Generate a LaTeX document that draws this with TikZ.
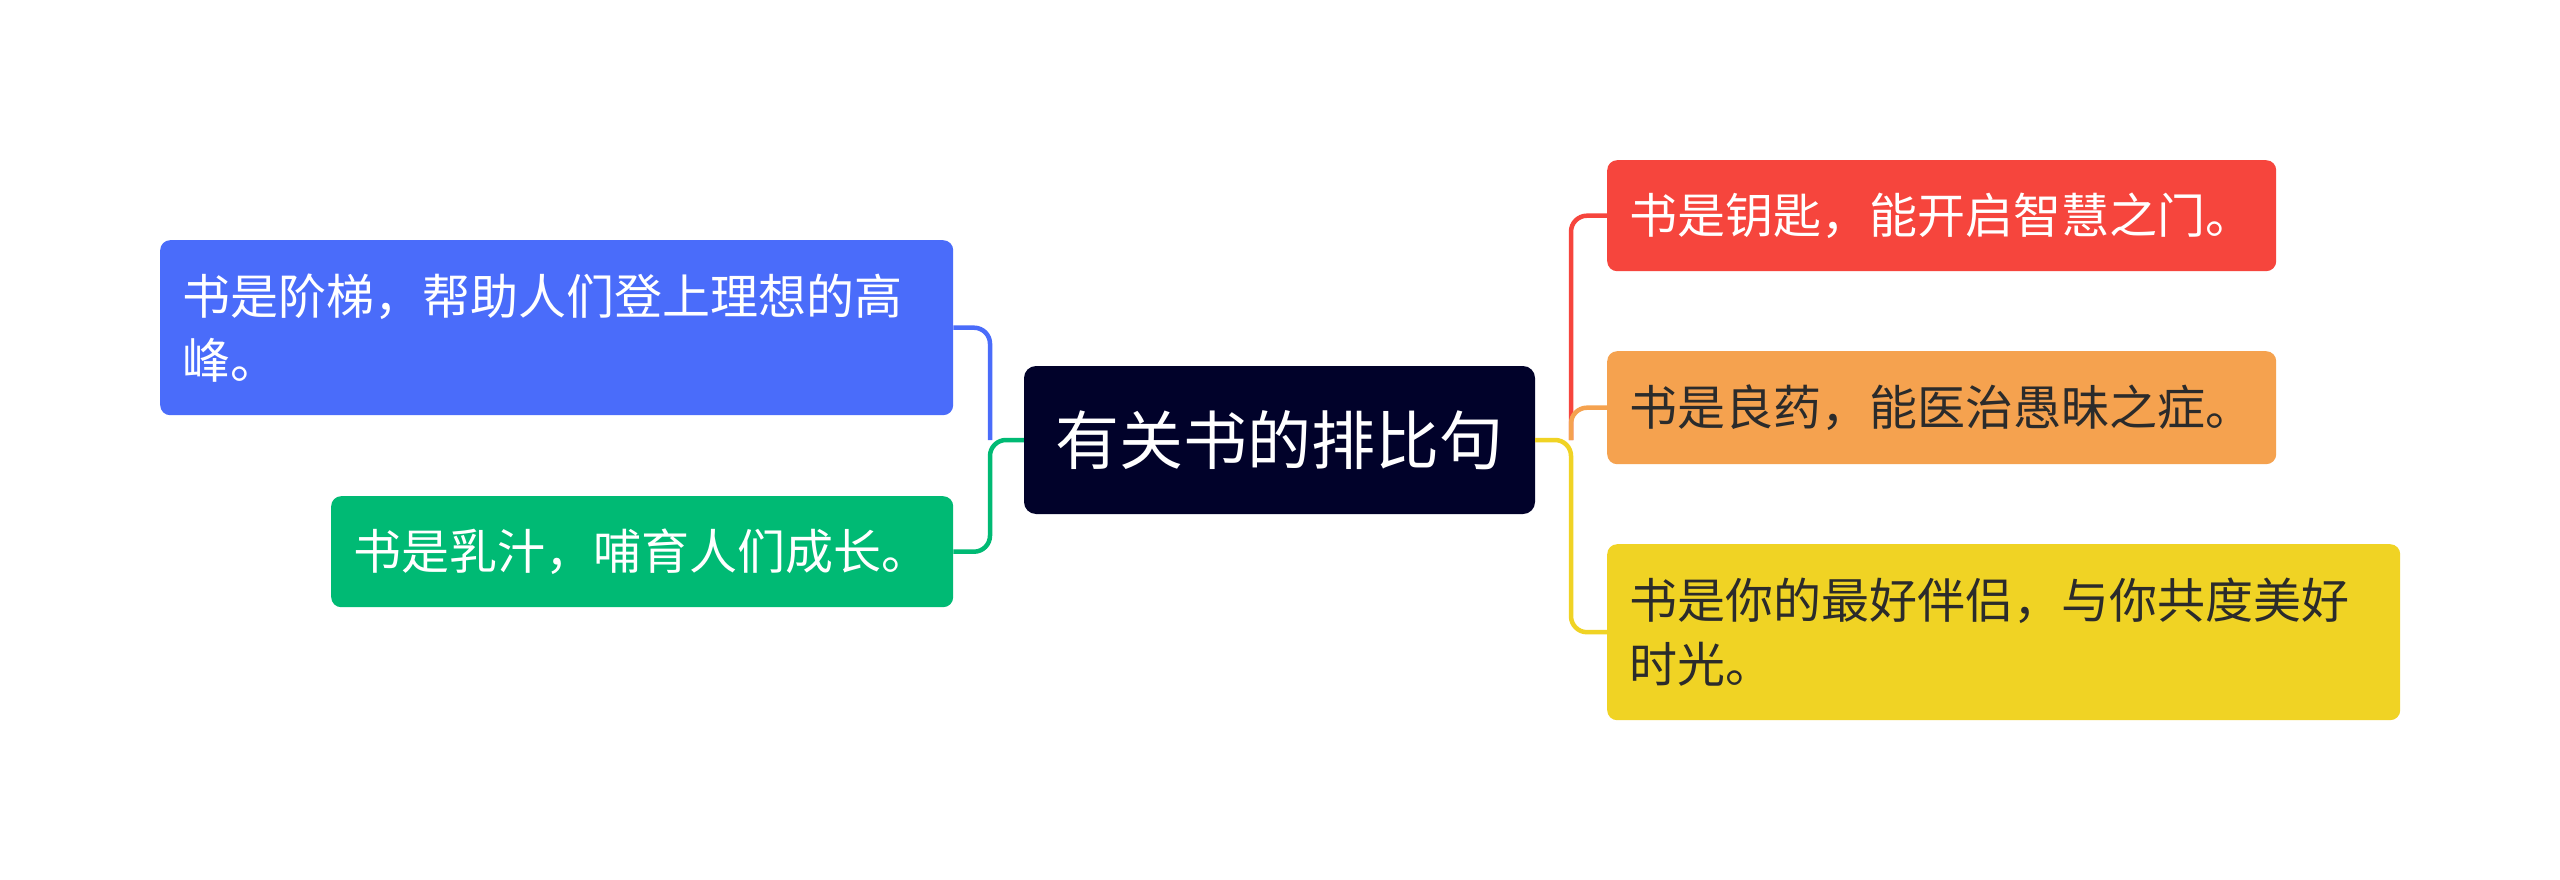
\documentclass[tikz,border=0pt]{standalone}
\usepackage{fontspec}
\setmainfont{Noto Sans CJK SC}
\definecolor{cCenter}{HTML}{01022A}
\definecolor{cBlue}{HTML}{4A6CFA}
\definecolor{cGreen}{HTML}{00BA74}
\definecolor{cRed}{HTML}{F6453D}
\definecolor{cOrange}{HTML}{F5A24F}
\definecolor{cYellow}{HTML}{F0D324}
\definecolor{cDark}{HTML}{2B2B2B}
\tikzset{
  leaf/.style={anchor=north west, rounded corners=10pt, inner xsep=22pt, inner ysep=0pt,
    align=left, font=\fontsize{48pt}{64pt}\selectfont},
  conn/.style={line width=4.5pt, rounded corners=16pt},
}
\begin{document}
\begin{tikzpicture}[x=1pt,y=-1pt]
\useasboundingbox (0,0) rectangle (2560,880);
\fill[white] (0,0) rectangle (2560,880);
% center
\node[fill=cCenter, text=white, rounded corners=12pt, minimum width=511pt, minimum height=148pt,
  inner sep=0pt, font=\fontsize{64pt}{70pt}\selectfont] (ctr) at (1279.5,440) {有关书的排比句};
% left leaves
\node[leaf, fill=cBlue, text=white, text width=749pt, minimum height=175pt] (nBlue) at (160,240)
  {书是阶梯，帮助人们登上理想的高\\峰。};
\node[leaf, fill=cGreen, text=white, text width=578pt, minimum height=111pt] (nGreen) at (331,496)
  {书是乳汁，哺育人们成长。};
% right leaves
\node[leaf, fill=cRed, text=white, text width=625pt, minimum height=111pt] (nRed) at (1607,160)
  {书是钥匙，能开启智慧之门。};
\node[leaf, fill=cOrange, text=cDark, text width=625pt, minimum height=113pt] (nOrange) at (1607,351)
  {书是良药，能医治愚昧之症。};
\node[leaf, fill=cYellow, text=cDark, text width=749pt, minimum height=176pt] (nYellow) at (1607,544)
  {书是你的最好伴侣，与你共度美好\\时光。};
% trunks
\coordinate (lt) at (990,440);
\coordinate (rt) at (1571,440);
% left connectors
\draw[conn, cBlue] (lt) |- (nBlue.east);
\draw[conn, cGreen] (ctr.west) -- (lt) |- (nGreen.east);
% right connectors
\draw[conn, cRed] (rt) |- (nRed.west);
\draw[conn, cOrange] (rt) |- (nOrange.west);
\draw[conn, cYellow] (ctr.east) -- (rt) |- (nYellow.west);
\end{tikzpicture}
\end{document}
